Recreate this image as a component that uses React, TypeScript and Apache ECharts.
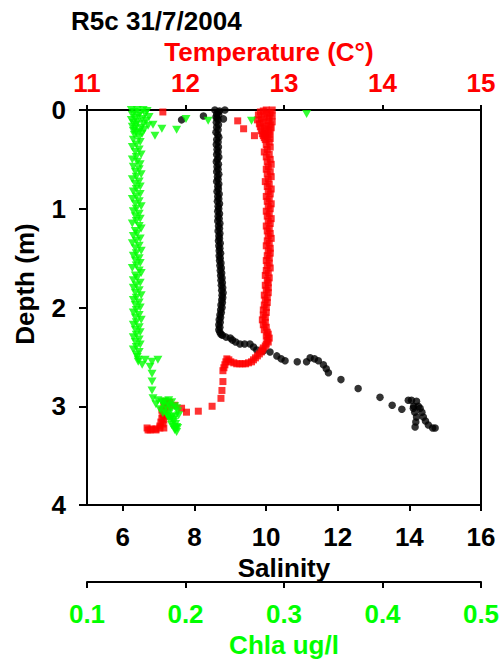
import React, { useEffect, useRef } from "react";
import * as echarts from "echarts";

const titleText = "R5c 31/7/2004";
const salinityTicks = [6, 8, 10, 12, 14, 16];
const chlaTicks = [0.1, 0.2, 0.3, 0.4, 0.5];

// [depth (m), salinity]
const salinityPoints: [number, number][] = [
  [0.0, 8.57], [0.0, 8.85], [0.01, 8.7], [0.02, 8.66], [0.04, 8.62], [0.05, 8.68], [0.06, 8.25],
  [0.07, 8.6], [0.08, 8.63], [0.09, 8.81], [0.1, 7.64], [0.1, 8.66],
  [0.125, 8.61], [0.15, 8.67], [0.175, 8.62], [0.2, 8.66], [0.225, 8.6], [0.25, 8.65], [0.275, 8.68],
  [0.3, 8.62], [0.325, 8.66], [0.35, 8.61], [0.375, 8.67], [0.4, 8.63], [0.425, 8.66], [0.45, 8.62],
  [0.475, 8.68], [0.5, 8.64], [0.525, 8.61], [0.55, 8.67], [0.575, 8.63], [0.6, 8.66], [0.625, 8.62],
  [0.65, 8.68], [0.675, 8.64], [0.7, 8.66], [0.725, 8.62], [0.75, 8.68], [0.775, 8.65], [0.8, 8.67],
  [0.825, 8.63], [0.85, 8.69], [0.875, 8.65], [0.9, 8.68], [0.925, 8.64], [0.95, 8.7], [0.975, 8.66],
  [1.0, 8.68], [1.025, 8.65], [1.05, 8.7], [1.075, 8.66], [1.1, 8.69], [1.125, 8.65], [1.15, 8.71],
  [1.175, 8.67], [1.2, 8.7], [1.225, 8.66], [1.25, 8.71], [1.275, 8.68], [1.3, 8.7], [1.325, 8.67],
  [1.35, 8.72], [1.375, 8.68], [1.4, 8.71], [1.425, 8.69], [1.45, 8.73], [1.475, 8.69], [1.5, 8.72],
  [1.525, 8.7], [1.55, 8.74], [1.575, 8.71], [1.6, 8.75], [1.625, 8.72], [1.65, 8.76], [1.675, 8.73],
  [1.7, 8.77], [1.725, 8.74], [1.75, 8.78], [1.775, 8.75], [1.8, 8.79], [1.825, 8.76], [1.85, 8.8],
  [1.875, 8.77], [1.9, 8.79], [1.925, 8.76], [1.95, 8.78], [1.975, 8.74], [2.0, 8.77], [2.025, 8.73],
  [2.05, 8.75], [2.075, 8.71], [2.1, 8.73], [2.125, 8.69], [2.15, 8.72], [2.175, 8.68], [2.2, 8.71],
  [2.225, 8.68], [2.25, 8.71], [2.27, 8.74], [2.28, 8.78], [2.3, 8.88], [2.31, 9.0],
  [2.33, 9.06], [2.35, 9.15], [2.37, 9.27], [2.37, 9.4], [2.37, 9.55], [2.4, 9.65], [2.43, 9.74],
  [2.44, 9.92], [2.45, 10.11], [2.49, 10.3], [2.52, 10.42], [2.54, 10.53], [2.55, 10.87],
  [2.55, 11.13], [2.51, 11.23], [2.52, 11.35], [2.54, 11.46], [2.58, 11.6], [2.62, 11.68],
  [2.66, 11.74], [2.73, 12.09], [2.82, 12.57], [2.91, 13.18], [2.99, 13.52], [3.03, 13.79],
  [2.94, 13.97], [2.94, 14.06], [2.95, 14.2], [3.0, 14.12], [3.02, 14.11], [3.06, 14.15],
  [3.11, 14.2], [3.16, 14.18], [3.21, 14.16], [3.0, 14.25], [3.02, 14.3], [3.06, 14.35],
  [3.11, 14.39], [3.15, 14.45], [3.19, 14.53], [3.22, 14.65], [3.22, 14.72],
];

// [depth (m), temperature °C]
const temperaturePoints: [number, number][] = [
  [0.02, 11.77], [0.11, 12.53], [0.19, 12.59], [0.26, 12.7],
  [0.0, 12.82], [0.0, 12.88], [0.01, 12.79], [0.02, 12.76], [0.03, 12.86], [0.04, 12.83],
  [0.05, 12.74], [0.06, 12.88], [0.07, 12.8], [0.08, 12.85], [0.09, 12.77], [0.1, 12.73],
  [0.11, 12.84], [0.12, 12.88], [0.13, 12.79], [0.14, 12.75], [0.15, 12.86], [0.16, 12.82],
  [0.17, 12.76], [0.18, 12.87], [0.19, 12.8], [0.2, 12.84], [0.21, 12.77], [0.22, 12.86],
  [0.23, 12.81], [0.24, 12.78], [0.25, 12.85], [0.26, 12.79], [0.27, 12.83], [0.28, 12.8],
  [0.29, 12.86], [0.3, 12.81], [0.325, 12.85], [0.35, 12.82], [0.375, 12.86], [0.4, 12.83],
  [0.425, 12.8], [0.45, 12.85], [0.475, 12.82], [0.5, 12.86], [0.525, 12.83], [0.55, 12.87],
  [0.575, 12.84], [0.6, 12.82], [0.625, 12.86], [0.65, 12.83], [0.675, 12.87], [0.7, 12.84],
  [0.725, 12.81], [0.75, 12.85], [0.775, 12.83], [0.8, 12.87], [0.825, 12.84], [0.85, 12.86],
  [0.875, 12.82], [0.9, 12.85], [0.925, 12.83], [0.95, 12.87], [0.975, 12.84], [1.0, 12.86],
  [1.025, 12.82], [1.05, 12.85], [1.075, 12.83], [1.1, 12.87], [1.125, 12.84], [1.15, 12.86],
  [1.175, 12.82], [1.2, 12.85], [1.225, 12.83], [1.25, 12.86], [1.275, 12.84], [1.3, 12.87],
  [1.325, 12.83], [1.35, 12.85], [1.375, 12.82], [1.4, 12.86], [1.425, 12.84], [1.45, 12.86],
  [1.475, 12.83], [1.5, 12.85], [1.525, 12.82], [1.55, 12.85], [1.575, 12.83], [1.6, 12.86],
  [1.625, 12.82], [1.65, 12.84], [1.675, 12.81], [1.7, 12.85], [1.725, 12.83], [1.75, 12.84],
  [1.775, 12.81], [1.8, 12.84], [1.825, 12.82], [1.85, 12.84], [1.875, 12.8], [1.9, 12.83],
  [1.925, 12.81], [1.95, 12.83], [1.975, 12.8], [2.0, 12.82], [2.025, 12.79], [2.05, 12.82],
  [2.075, 12.79], [2.1, 12.81], [2.125, 12.78], [2.15, 12.81], [2.175, 12.79], [2.2, 12.82],
  [2.225, 12.8], [2.25, 12.83], [2.27, 12.84], [2.29, 12.82], [2.31, 12.85], [2.33, 12.83],
  [2.35, 12.84], [2.37, 12.82], [2.39, 12.81], [2.41, 12.79], [2.43, 12.78], [2.45, 12.77],
  [2.47, 12.75], [2.49, 12.73], [2.51, 12.71], [2.53, 12.69], [2.55, 12.67], [2.56, 12.64],
  [2.57, 12.61], [2.57, 12.58], [2.57, 12.55], [2.57, 12.52], [2.56, 12.49], [2.55, 12.46],
  [2.53, 12.44], [2.52, 12.42], [2.55, 12.41], [2.58, 12.4], [2.61, 12.39], [2.64, 12.38],
  [2.75, 12.38], [2.84, 12.37], [2.92, 12.36], [3.0, 12.27], [3.05, 12.13], [3.06, 12.01],
  [3.02, 11.96], [2.99, 11.89], [2.96, 11.84], [2.95, 11.79], [2.97, 11.81], [3.01, 11.82],
  [2.99, 11.78], [3.04, 11.76], [3.06, 11.79], [3.08, 11.77], [3.1, 11.8], [3.12, 11.76],
  [3.14, 11.78], [3.16, 11.75], [3.18, 11.77], [3.2, 11.74], [3.22, 11.74], [3.23, 11.7],
  [3.24, 11.7], [3.23, 11.66], [3.24, 11.62], [3.22, 11.61], [3.24, 11.64], [3.22, 11.78],
];

// [depth (m), Chla ug/l]
const chlaPoints: [number, number][] = [
  [0.0, 0.145], [0.0, 0.151], [0.0, 0.157], [0.01, 0.161], [0.02, 0.148], [0.03, 0.154],
  [0.04, 0.159], [0.05, 0.146], [0.06, 0.152], [0.07, 0.163], [0.08, 0.149], [0.09, 0.156],
  [0.1, 0.145], [0.11, 0.16], [0.12, 0.151], [0.13, 0.147], [0.14, 0.157], [0.15, 0.15],
  [0.16, 0.162], [0.17, 0.146], [0.18, 0.155], [0.19, 0.149], [0.2, 0.158], [0.21, 0.147],
  [0.22, 0.153], [0.23, 0.15], [0.24, 0.156], [0.25, 0.148],
  [0.15, 0.167], [0.19, 0.176], [0.26, 0.169], [0.2, 0.191], [0.09, 0.2005],
  [0.11, 0.223], [0.11, 0.267], [0.04, 0.323],
  [0.275, 0.153], [0.3, 0.147], [0.325, 0.154], [0.35, 0.15], [0.375, 0.146], [0.4, 0.153],
  [0.425, 0.149], [0.45, 0.155], [0.475, 0.15], [0.5, 0.146], [0.525, 0.151], [0.55, 0.154],
  [0.575, 0.147], [0.6, 0.153], [0.625, 0.149], [0.65, 0.155], [0.675, 0.15], [0.7, 0.146],
  [0.725, 0.153], [0.75, 0.149], [0.775, 0.154], [0.8, 0.15], [0.825, 0.147], [0.85, 0.154],
  [0.875, 0.15], [0.9, 0.146], [0.925, 0.153], [0.95, 0.149], [0.975, 0.155], [1.0, 0.15],
  [1.025, 0.147], [1.05, 0.153], [1.075, 0.149], [1.1, 0.154], [1.125, 0.15], [1.15, 0.146],
  [1.175, 0.153], [1.2, 0.155], [1.225, 0.149], [1.25, 0.151], [1.275, 0.147], [1.3, 0.154],
  [1.325, 0.15], [1.35, 0.146], [1.375, 0.153], [1.4, 0.149], [1.425, 0.155], [1.45, 0.15],
  [1.475, 0.147], [1.5, 0.153], [1.525, 0.149], [1.55, 0.154], [1.575, 0.15], [1.6, 0.146],
  [1.625, 0.153], [1.65, 0.155], [1.675, 0.149], [1.7, 0.151], [1.725, 0.147], [1.75, 0.154],
  [1.775, 0.15], [1.8, 0.147], [1.825, 0.153], [1.85, 0.149], [1.875, 0.155], [1.9, 0.15],
  [1.925, 0.147], [1.95, 0.153], [1.975, 0.149], [2.0, 0.154], [2.025, 0.15], [2.05, 0.147],
  [2.075, 0.153], [2.1, 0.149], [2.125, 0.155], [2.15, 0.15], [2.175, 0.147], [2.2, 0.153],
  [2.225, 0.149], [2.25, 0.154], [2.275, 0.15], [2.3, 0.147], [2.325, 0.153], [2.35, 0.149],
  [2.375, 0.154], [2.4, 0.15], [2.425, 0.147], [2.45, 0.153], [2.475, 0.15], [2.5, 0.151],
  [2.53, 0.152], [2.55, 0.152], [2.53, 0.159], [2.55, 0.166], [2.53, 0.172], [2.58, 0.156],
  [2.6, 0.164], [2.67, 0.166], [2.75, 0.166], [2.84, 0.166], [2.92, 0.167], [2.94, 0.172],
  [2.97, 0.177], [2.98, 0.17], [3.0, 0.18], [3.03, 0.174], [3.04, 0.178], [3.08, 0.181],
  [3.12, 0.183], [2.95, 0.179], [2.94, 0.183], [2.96, 0.176], [2.96, 0.186], [2.99, 0.183],
  [3.0, 0.189], [3.02, 0.185], [3.02, 0.191], [3.05, 0.192], [3.06, 0.184], [3.07, 0.177],
  [3.1, 0.19], [3.1, 0.182], [3.11, 0.186], [3.09, 0.193], [3.13, 0.185], [3.14, 0.187],
  [3.16, 0.188], [3.18, 0.19], [3.19, 0.186], [3.21, 0.191], [3.21, 0.188], [3.22, 0.192],
  [3.23, 0.19], [3.24, 0.189], [3.26, 0.191],
];

const FONT = "'Liberation Sans', Arial, sans-serif";
const BLACK = "#000000";
const RED = "#ff0000";
const GREEN = "#00ff00";
const FS = 26;

export default function App() {
  const ref = useRef<HTMLDivElement>(null);

  useEffect(() => {
    if (!ref.current) return;
    const chart = echarts.init(ref.current, undefined, { renderer: "svg" });

    const tickStyle = (color: string) => ({
      fontFamily: FONT,
      fontWeight: "bold" as const,
      fontSize: FS,
      color,
    });

    const option: any = {
      animation: false,
      backgroundColor: "#ffffff",
      title: {
        text: titleText,
        left: 66,
        top: 3,
        textStyle: { fontFamily: FONT, fontWeight: "bold", fontSize: FS, color: BLACK },
      },
      grid: {
        left: 87,
        top: 110,
        width: 394,
        height: 395,
        show: true,
        borderColor: BLACK,
        borderWidth: 2,
        backgroundColor: "transparent",
      },
      xAxis: [
        {
          type: "value",
          position: "bottom",
          min: 5,
          max: 16,
          splitLine: { show: false },
          axisLine: { show: true, onZero: false, lineStyle: { color: BLACK, width: 2 } },
          axisTick: { show: true, customValues: salinityTicks, length: 6, lineStyle: { color: BLACK, width: 2 } },
          axisLabel: { customValues: salinityTicks, margin: 19, ...tickStyle(BLACK) },
          name: "Salinity",
          nameLocation: "middle",
          nameGap: 45,
          nameTextStyle: { fontFamily: FONT, fontWeight: "bold", fontSize: FS, color: BLACK },
        },
        {
          type: "value",
          position: "top",
          min: 11,
          max: 15,
          interval: 1,
          splitLine: { show: false },
          axisLine: { show: true, onZero: false, lineStyle: { color: BLACK, width: 2 } },
          axisTick: { show: true, length: 5, lineStyle: { color: BLACK, width: 2 } },
          axisLabel: { margin: 14, ...tickStyle(RED) },
          name: "Temperature (C°)",
          nameLocation: "middle",
          nameGap: 34,
          nameTextStyle: { fontFamily: FONT, fontWeight: "bold", fontSize: FS, color: RED, padding: [0, 30, 0, 0] },
        },
        {
          type: "value",
          position: "bottom",
          offset: 77,
          min: 0.1,
          max: 0.5,
          splitLine: { show: false },
          axisLine: { show: true, onZero: false, lineStyle: { color: BLACK, width: 2 } },
          axisTick: { show: true, customValues: chlaTicks, length: 6, lineStyle: { color: BLACK, width: 2 } },
          axisLabel: { customValues: chlaTicks, margin: 19, formatter: (v: number) => v.toFixed(1), ...tickStyle(GREEN) },
          name: "Chla ug/l",
          nameLocation: "middle",
          nameGap: 47,
          nameTextStyle: { fontFamily: FONT, fontWeight: "bold", fontSize: FS, color: GREEN },
        },
      ],
      yAxis: [
        {
          type: "value",
          inverse: true,
          min: 0,
          max: 4,
          interval: 1,
          splitLine: { show: false },
          axisLine: { show: true, onZero: false, lineStyle: { color: BLACK, width: 2 } },
          axisTick: { show: true, length: 8, lineStyle: { color: BLACK, width: 2 } },
          axisLabel: { margin: 21, ...tickStyle(BLACK) },
        },
      ],
      graphic: [
        {
          type: "text",
          x: 25,
          y: 284,
          rotation: Math.PI / 2,
          style: {
            text: "Depth (m)",
            fontFamily: FONT,
            fontWeight: "bold",
            fontSize: FS,
            fill: BLACK,
            align: "center",
            verticalAlign: "middle",
          },
        },
      ],
      series: [
        {
          name: "Salinity",
          type: "scatter",
          xAxisIndex: 0,
          yAxisIndex: 0,
          symbol: "circle",
          symbolSize: 7.5,
          itemStyle: { color: BLACK },
          data: salinityPoints.map(([d, v]) => [v, d]),
        },
        {
          name: "Temperature",
          type: "scatter",
          xAxisIndex: 1,
          yAxisIndex: 0,
          symbol: "rect",
          symbolSize: 7,
          itemStyle: { color: RED },
          data: temperaturePoints.map(([d, v]) => [v, d]),
        },
        {
          name: "Chla",
          type: "scatter",
          xAxisIndex: 2,
          yAxisIndex: 0,
          symbol: "triangle",
          symbolRotate: 180,
          symbolSize: [9, 8],
          itemStyle: { color: GREEN },
          data: chlaPoints.map(([d, v]) => [v, d]),
        },
      ],
    };

    chart.setOption(option);
    return () => chart.dispose();
  }, []);

  return (
    <div
      ref={ref}
      style={{ position: "absolute", left: 0, top: 0, width: 503, height: 666 }}
    />
  );
}
